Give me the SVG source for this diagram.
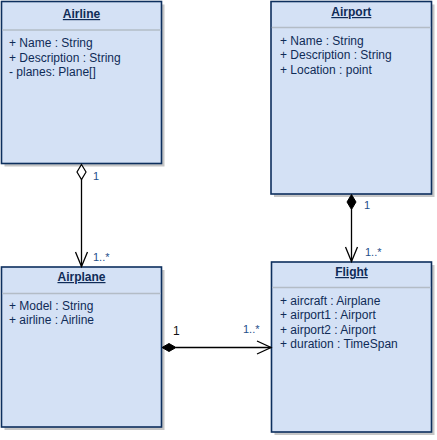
<svg xmlns="http://www.w3.org/2000/svg" width="437" height="440" viewBox="0 0 437 440">
<style>
.shadow{fill:#c6c6c6;stroke:none}
.box{fill:#d4e1f5;stroke:#0d2f5e;stroke-width:1.6}
.sep{stroke:#b3bcc6;stroke-width:1.5}
.title{font-family:"Liberation Sans",Arial,sans-serif;font-size:12px;font-weight:bold;fill:#0f2b57;text-anchor:middle;text-decoration:underline}
.attr{font-family:"Liberation Sans",Arial,sans-serif;font-size:12px;fill:#0f2b57}
.mult{font-family:"Liberation Sans",Arial,sans-serif;font-size:11px;fill:#244f8a}
.multb{font-family:"Liberation Sans",Arial,sans-serif;font-size:12px;fill:#111}
.line{stroke:#000;stroke-width:1.3;fill:none}
</style>
<rect width="437" height="440" fill="#fff"/>
<g id="Airline">
<rect class="shadow" x="4.5" y="4.5" width="160" height="162"/>
<rect class="box" x="1.5" y="1.5" width="160" height="162"/>
<line class="sep" x1="2.3" y1="30" x2="160.7" y2="30"/>
<text class="title" x="81.5" y="18">Airline</text>
<text class="attr" x="9" y="47">+ Name : String</text>
<text class="attr" x="9" y="61.5">+ Description : String</text>
<text class="attr" x="9" y="76">- planes: Plane[]</text>
</g>
<g id="Airport">
<rect class="shadow" x="274" y="4.5" width="160.5" height="192.5"/>
<rect class="box" x="271" y="1.5" width="160.5" height="192.5"/>
<line class="sep" x1="271.8" y1="27.5" x2="430.7" y2="27.5"/>
<text class="title" x="351.3" y="16">Airport</text>
<text class="attr" x="280" y="44.5">+ Name : String</text>
<text class="attr" x="280" y="59">+ Description : String</text>
<text class="attr" x="280" y="73.5">+ Location : point</text>
</g>
<g id="Airplane">
<rect class="shadow" x="4.5" y="270" width="160" height="160"/>
<rect class="box" x="1.5" y="267" width="160" height="160"/>
<line class="sep" x1="2.3" y1="293.5" x2="160.7" y2="293.5"/>
<text class="title" x="81.5" y="281">Airplane</text>
<text class="attr" x="9" y="309.5">+ Model : String</text>
<text class="attr" x="9" y="324">+ airline : Airline</text>
</g>
<g id="Flight">
<rect class="shadow" x="274.5" y="265" width="160" height="170"/>
<rect class="box" x="271.5" y="262" width="160" height="170"/>
<line class="sep" x1="272.3" y1="287.5" x2="430.7" y2="287.5"/>
<text class="title" x="351.5" y="276">Flight</text>
<text class="attr" x="280" y="304.5">+ aircraft : Airplane</text>
<text class="attr" x="280" y="319">+ airport1 : Airport</text>
<text class="attr" x="280" y="333.5">+ airport2 : Airport</text>
<text class="attr" x="280" y="348">+ duration : TimeSpan</text>
</g>
<g id="connectors">
<line class="line" x1="81.5" y1="179" x2="81.5" y2="266.5"/>
<polygon points="81.5,164.5 86,172 81.5,179.5 77,172" fill="#fff" stroke="#000" stroke-width="1.2"/>
<polyline class="line" points="75.5,252 81.5,266.5 87.5,252"/>
<text class="mult" x="93" y="180">1</text>
<text class="mult" x="93" y="261">1..*</text>

<line class="line" x1="351.5" y1="209" x2="351.5" y2="261.5"/>
<polygon points="351.5,194.5 356,202 351.5,209.5 347,202" fill="#000" stroke="#000" stroke-width="1"/>
<polyline class="line" points="345.5,247 351.5,261.5 357.5,247"/>
<text class="mult" x="364" y="209">1</text>
<text class="mult" x="365" y="256">1..*</text>

<line class="line" x1="176" y1="347.5" x2="271" y2="347.5"/>
<polygon points="162,347.5 169,343.5 176,347.5 169,351.5" fill="#000" stroke="#000" stroke-width="1"/>
<polyline class="line" points="257,341 271,347.5 257,354"/>
<text class="multb" x="173" y="335">1</text>
<text class="mult" x="243" y="333">1..*</text>
</g>
</svg>
